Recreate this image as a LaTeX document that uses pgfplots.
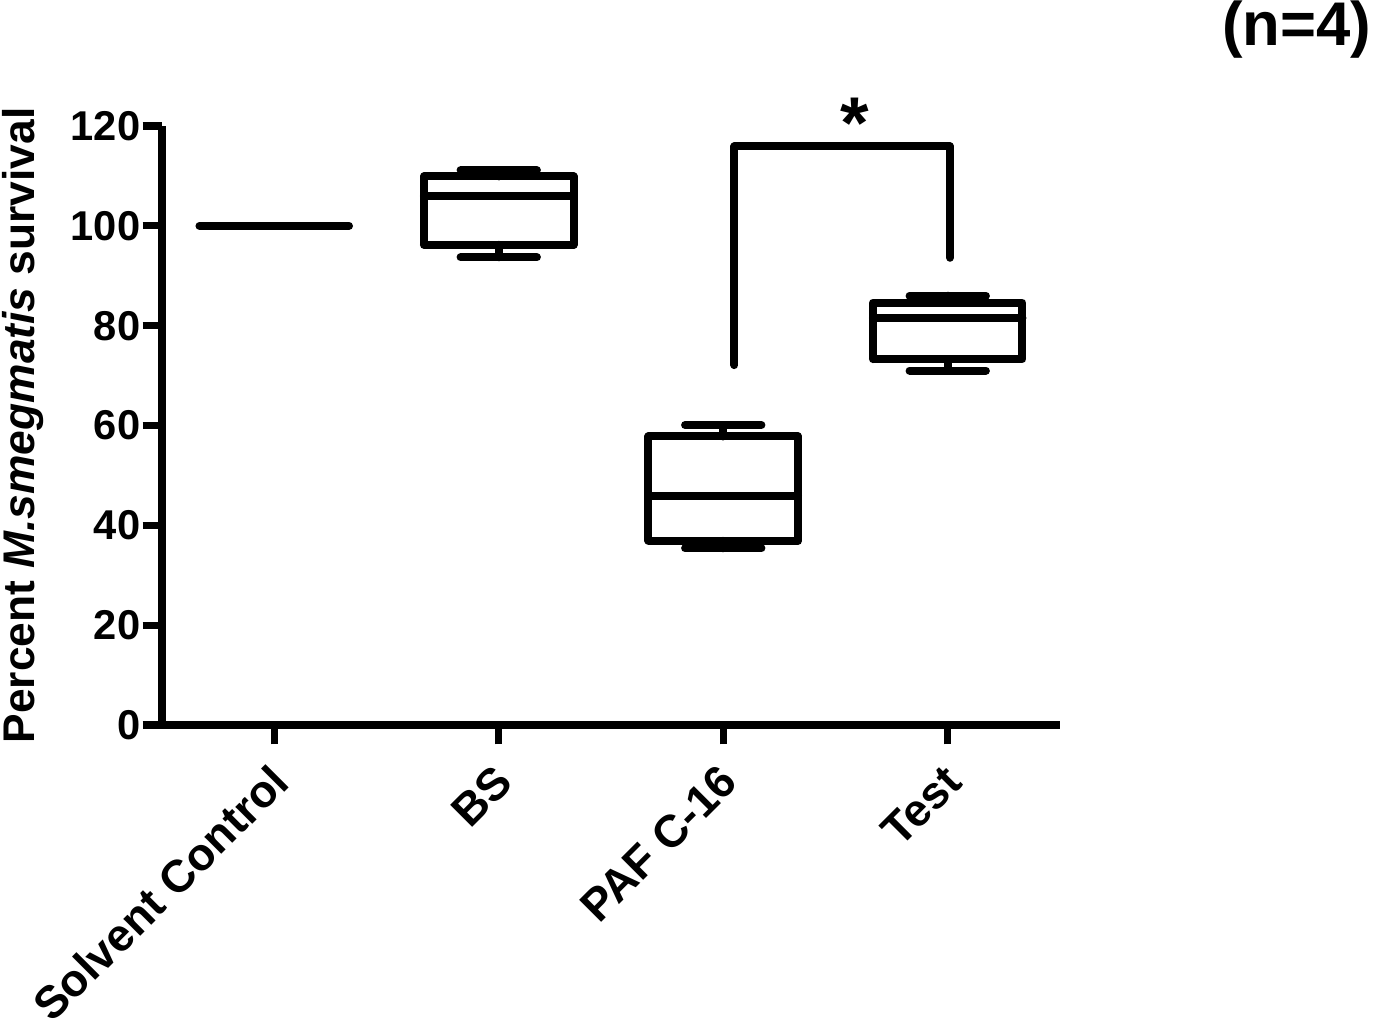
\documentclass[border=0pt]{standalone}
\usepackage{fontspec}
\setmainfont{Liberation Sans}
\usepackage{pgfplots}
\pgfplotsset{compat=1.18}
\pgfplotsset{bx/.style={black, line width=2.4pt, line cap=round, line join=round, mark=none}}
\begin{document}
\begin{tikzpicture}
\useasboundingbox (-48.6pt,-90.3pt) rectangle (364.2pt,217.5pt);
\begin{axis}[
  scale only axis, width=269.4pt, height=179.7pt,
  at={(0pt,0pt)}, anchor=south west,
  xmin=-0.5, xmax=3.5, ymin=0, ymax=120,
  axis lines=left,
  axis line style={-, line width=2.2pt, black},
  clip=false,
  xtick={0,1,2,3},
  xticklabels={Solvent Control, BS, PAF C-16, Test},
  ytick={0,20,40,60,80,100,120},
  tick align=outside,
  major tick length=5.8pt,
  tick style={line width=2.2pt, black},
  /pgf/number format/assume math mode=true,
  tick label style={font=\bfseries\fontsize{12.5}{14}\selectfont},
  xticklabel style={font=\bfseries\fontsize{13.6}{16}\selectfont, xshift=2.5pt, yshift=-8pt, rotate=45, anchor=east, inner sep=1pt},
  yticklabel style={inner sep=0.5pt},
  ylabel={Percent \textit{M.smegmatis} survival},
  ylabel style={font=\bfseries\fontsize{13.3}{15}\selectfont, at={(rel axis cs:-0.1314,0.5)}, anchor=south, inner sep=0pt},
]
% Solvent Control (all values 100)
\addplot[bx] coordinates {(-0.333,100) (0.333,100)};
% BS: lower whisker 93.7, Q1 96.2, median 105.9, Q3 109.9, upper whisker 111.1
\addplot[bx] coordinates {(0.667,96.2) (1.333,96.2) (1.333,109.9) (0.667,109.9) (0.667,96.2)};
\addplot[bx] coordinates {(0.667,105.9) (1.333,105.9)};
\addplot[bx] coordinates {(1,109.9) (1,111.1)};
\addplot[bx] coordinates {(0.83,111.1) (1.17,111.1)};
\addplot[bx] coordinates {(1,96.2) (1,93.7)};
\addplot[bx] coordinates {(0.83,93.7) (1.17,93.7)};
% PAF C-16: 35.4, 36.9, 45.9, 57.8, 60.1
\addplot[bx] coordinates {(1.667,36.9) (2.333,36.9) (2.333,57.8) (1.667,57.8) (1.667,36.9)};
\addplot[bx] coordinates {(1.667,45.9) (2.333,45.9)};
\addplot[bx] coordinates {(2,57.8) (2,60.1)};
\addplot[bx] coordinates {(1.83,60.1) (2.17,60.1)};
\addplot[bx] coordinates {(2,36.9) (2,35.4)};
\addplot[bx] coordinates {(1.83,35.4) (2.17,35.4)};
% Test: 71.0, 73.3, 81.5, 84.6, 86.0
\addplot[bx] coordinates {(2.667,73.3) (3.333,73.3) (3.333,84.6) (2.667,84.6) (2.667,73.3)};
\addplot[bx] coordinates {(2.667,81.5) (3.333,81.5)};
\addplot[bx] coordinates {(3,84.6) (3,86.0)};
\addplot[bx] coordinates {(2.83,86.0) (3.17,86.0)};
\addplot[bx] coordinates {(3,73.3) (3,71.0)};
\addplot[bx] coordinates {(2.83,71.0) (3.17,71.0)};
% significance bracket
\addplot[bx] coordinates {(2.05,72.1) (2.05,115.9) (3.01,115.9) (3.01,93.6)};
\node[font=\bfseries\fontsize{22}{24}\selectfont, anchor=base, inner sep=0pt] at (axis cs:2.586,115.5) {*};
\end{axis}
\node[font=\bfseries\fontsize{18.5}{20}\selectfont, anchor=north east, inner sep=0pt] at (363pt,217.5pt) {(n=4)};
\end{tikzpicture}
\end{document}
